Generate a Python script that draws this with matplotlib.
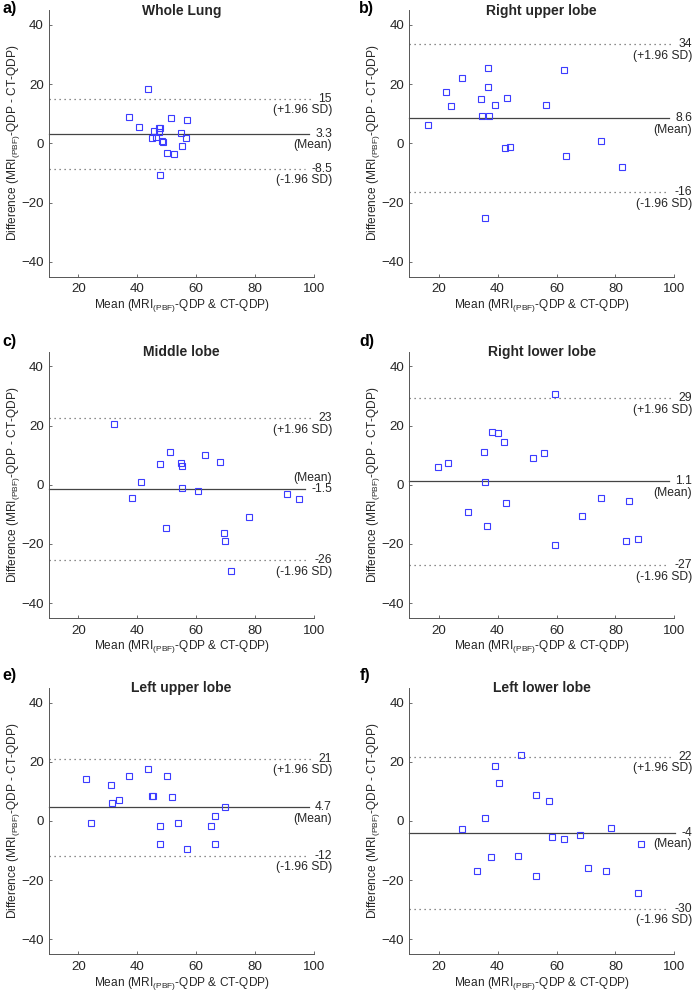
import matplotlib
matplotlib.use('Agg')
import matplotlib.pyplot as plt

plt.rcParams['font.family'] = ['Liberation Sans', 'DejaVu Sans']
plt.rcParams['mathtext.fontset'] = 'custom'
plt.rcParams['mathtext.rm'] = 'Liberation Sans'
plt.rcParams['mathtext.it'] = 'Liberation Sans:italic'

# panel data: mean of the two methods vs difference
a_x = [43.7, 37.1, 51.4, 56.7, 40.7, 45.6, 47.3, 47.7, 47.5, 54.8, 45.1, 46.2, 48.4, 48.7, 56.4, 55.2, 50.1, 52.5, 47.7]
a_y = [18.3, 8.8, 8.6, 7.9, 5.4, 4.3, 5.3, 5.3, 3.8, 3.5, 1.9, 2.1, 0.9, 0.6, 1.7, -0.9, -3.2, -3.5, -10.6]

b_x = [16.5, 22.4, 24.3, 28.0, 34.3, 34.8, 36.7, 36.9, 37.1, 39.3, 43.1, 42.4, 44.4, 35.6, 56.3, 62.5, 63.1, 75.0, 82.2]
b_y = [6.1, 17.5, 12.7, 22.0, 15.1, 9.2, 25.6, 19.2, 9.3, 12.9, 15.4, -1.6, -1.4, -25.1, 12.8, 24.7, -4.4, 0.7, -8.1]

c_x = [32.0, 38.2, 41.2, 47.8, 51.1, 49.6, 54.9, 55.3, 55.0, 60.5, 62.8, 68.0, 69.3, 69.8, 71.8, 78.0, 90.7, 94.9]
c_y = [20.6, -4.5, 0.9, 6.9, 10.9, -14.7, 7.5, 6.3, -1.1, -2.1, 10.2, 7.8, -16.4, -19.0, -29.0, -10.9, -3.1, -4.9]

d_x = [19.8, 23.3, 29.9, 35.4, 35.6, 36.6, 38.2, 40.0, 42.1, 42.9, 51.9, 55.6, 59.5, 59.4, 68.6, 75.1, 84.5, 83.4, 87.5]
d_y = [6.0, 7.5, -9.2, 11.1, 0.8, -14.0, 17.7, 17.6, 14.5, -6.2, 8.9, 10.6, 30.7, -20.5, -10.5, -4.4, -5.6, -18.9, -18.2]

e_x = [22.7, 24.3, 31.2, 31.5, 33.8, 37.1, 43.8, 45.0, 45.3, 47.6, 47.8, 50.2, 51.6, 53.9, 56.9, 64.9, 66.4, 66.3, 69.9]
e_y = [14.2, -0.8, 12.0, 6.0, 7.0, 15.3, 17.7, 8.5, 8.5, -1.7, -7.8, 15.3, 8.1, -0.8, -9.6, -1.8, 1.6, -7.8, 4.7]

f_x = [28.1, 33.2, 35.6, 37.9, 39.3, 40.5, 47.1, 47.9, 53.0, 53.2, 57.4, 58.6, 62.4, 67.8, 70.7, 76.9, 78.5, 88.5, 87.5]
f_y = [-2.8, -17.0, 1.1, -12.3, 18.6, 12.7, -11.8, 22.4, 8.7, -18.6, 6.9, -5.5, -6.0, -4.6, -15.8, -17.0, -2.3, -7.8, -24.2]

titles = ['Whole Lung', 'Right upper lobe', 'Middle lobe', 'Right lower lobe', 'Left upper lobe', 'Left lower lobe']
letters = ['a)', 'b)', 'c)', 'd)', 'e)', 'f)']
means = [3.3, 8.6, -1.5, 1.1, 4.7, -4.0]
uppers = [15.1, 33.6, 22.5, 29.3, 21.0, 21.7]
lowers = [-8.5, -16.4, -25.5, -27.2, -11.7, -29.6]
mean_labels = ['3.3', '8.6', '-1.5', '1.1', '4.7', '-4']
upper_labels = ['15', '34', '23', '29', '21', '22']
lower_labels = ['-8.5', '-16', '-26', '-27', '-12', '-30']
mean_above = [False, False, True, False, False, False]

xs = [a_x, b_x, c_x, d_x, e_x, f_x]
ys = [a_y, b_y, c_y, d_y, e_y, f_y]

fig = plt.figure(figsize=(6.95, 9.93), dpi=100)
lefts = [0.0702, 0.5885]
bottoms = [0.7215, 0.3777, 0.0391]
w, h = 0.382, 0.2683
letter_pos = [(0.003, 0.991), (0.517, 0.991), (0.003, 0.656), (0.517, 0.656), (0.003, 0.320), (0.517, 0.320)]

txtc = '#262626'
fs = 8.7
pending = []
for i in range(6):
    ax = fig.add_axes([lefts[i % 2], bottoms[i // 2], w, h])
    ax.plot(xs[i], ys[i], 's', mfc='none', mec='#3c3cff', ms=4.6, mew=0.8, zorder=3)
    ax.set_xlim(10, 100)
    ax.set_ylim(-45, 45)
    ax.set_xticks([20, 40, 60, 80, 100])
    ax.set_yticks([-40, -20, 0, 20, 40])
    for s in ['top', 'right']:
        ax.spines[s].set_visible(False)
    for s in ['left', 'bottom']:
        ax.spines[s].set_color('#555555')
        ax.spines[s].set_linewidth(0.7)
    ax.tick_params(direction='in', length=2.5, width=0.6, color='#555555', labelcolor=txtc,
                   labelsize=9.6, pad=3.5)
    ax.tick_params(axis='x', pad=5)
    ax.set_xlabel('Mean (MRI$_{\\mathrm{(PBF)}}$-QDP & CT-QDP)', fontsize=8.6, color=txtc, labelpad=1)
    ax.set_ylabel('Difference (MRI$_{\\mathrm{(PBF)}}$-QDP - CT-QDP)', fontsize=8.6, color=txtc)
    ax.yaxis.set_label_coords(-0.102, 0.5)
    ax.text(0.5, 0.998, titles[i], transform=ax.transAxes, ha='center', va='center',
            fontsize=10, fontweight='bold', color=txtc)
    fig.text(letter_pos[i][0], letter_pos[i][1], letters[i], ha='left', va='center',
             fontsize=11.5, fontweight='bold', color='black')

    rows = [(uppers[i], upper_labels[i], '(+1.96 SD)', -1, ':'),
            (means[i], mean_labels[i], '(Mean)', 1 if mean_above[i] else -1, '-'),
            (lowers[i], lower_labels[i], '(-1.96 SD)', -1, ':')]
    for val, lab, desc, side, ls in rows:
        t = ax.text(106, val, lab, ha='right', va='center', fontsize=fs, color=txtc, clip_on=False)
        ax.annotate(desc, xy=(106, val), xytext=(0, side * 8.4), textcoords='offset points',
                    ha='right', va='center', fontsize=fs, color=txtc, annotation_clip=False)
        pending.append((ax, t, val, ls))

fig.canvas.draw()
r = fig.canvas.get_renderer()
for ax, t, val, ls in pending:
    bb = t.get_window_extent(renderer=r)
    xend = ax.transData.inverted().transform((bb.x0 - 6, 0))[0]
    if ls == '-':
        ax.plot([10, xend], [val, val], '-', color='#444444', lw=0.9, clip_on=False, zorder=2)
    else:
        ax.plot([10, xend], [val, val], color='#666666', lw=0.9, ls=(0, (1, 3)), clip_on=False, zorder=2)

fig.savefig('out.png', dpi=100)
